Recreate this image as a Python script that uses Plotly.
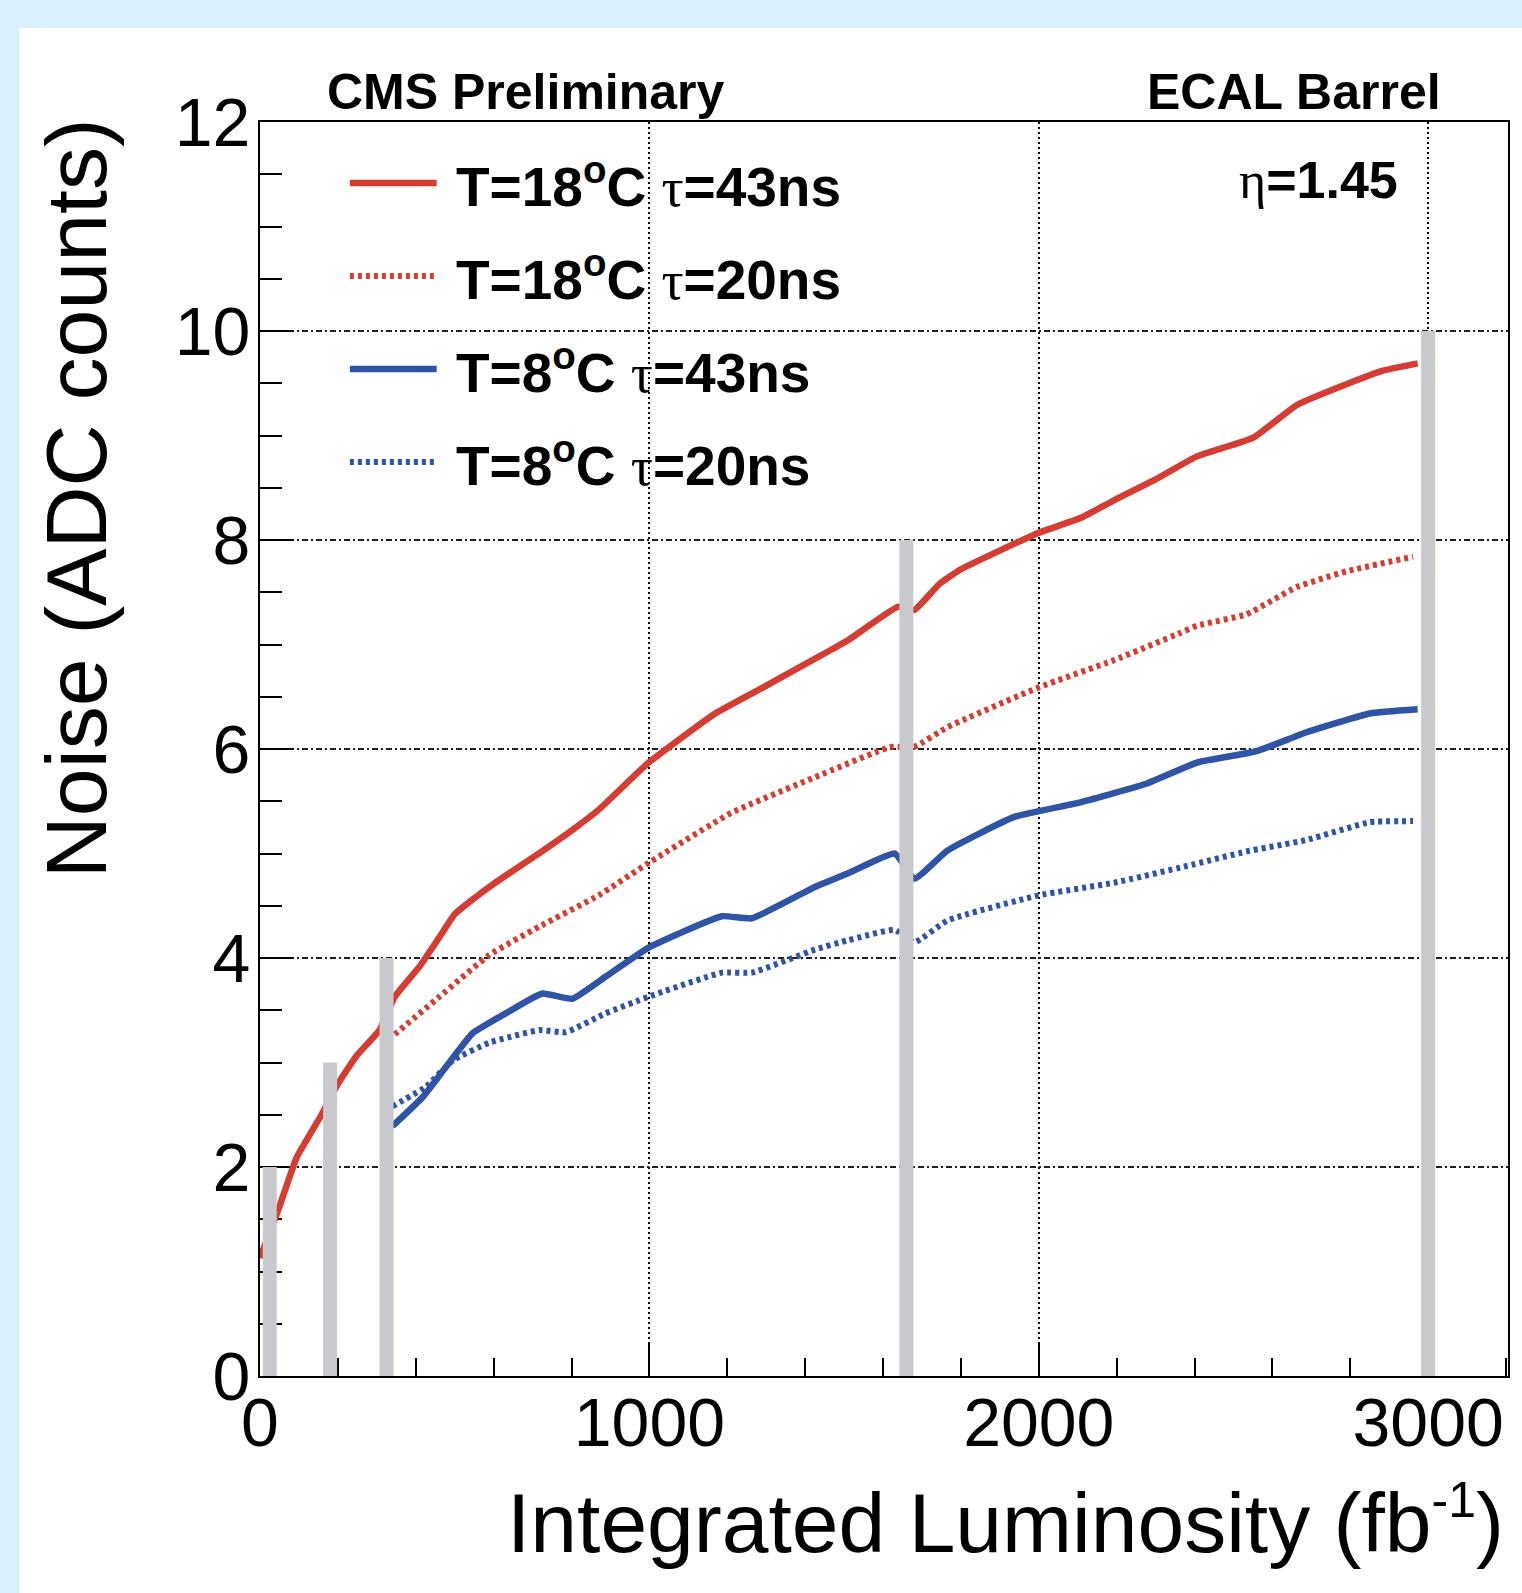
import plotly.graph_objects as go

# ---------------- data ----------------
red43_x = [0, 47, 94, 158, 196, 247, 307, 346, 410, 461, 500, 546, 600, 700, 800, 870, 998,
           1169, 1297, 1467, 1510, 1638, 1680, 1745, 1800, 2000, 2107, 2193, 2300, 2406,
           2551, 2662, 2790, 2884, 2973]
red43_y = [1.13, 1.59, 2.09, 2.50, 2.77, 3.06, 3.31, 3.63, 3.92, 4.20, 4.42, 4.56, 4.71,
           4.96, 5.22, 5.42, 5.87, 6.34, 6.60, 6.95, 7.04, 7.36, 7.33, 7.58, 7.72, 8.07,
           8.21, 8.38, 8.58, 8.80, 8.98, 9.29, 9.49, 9.62, 9.69]

red20_x = [330, 461, 589, 717, 870, 998, 1211, 1425, 1620, 1680, 1766, 2000, 2193, 2363,
           2406, 2534, 2662, 2790, 2961]
red20_y = [3.22, 3.63, 4.03, 4.30, 4.60, 4.91, 5.39, 5.73, 6.02, 6.02, 6.21, 6.59, 6.85,
           7.11, 7.18, 7.29, 7.55, 7.70, 7.84]

blue43_x = [340, 418, 478, 546, 631, 725, 802, 887, 998, 1186, 1263, 1425, 1510, 1630,
            1681, 1766, 1937, 2107, 2278, 2406, 2560, 2688, 2850, 2973]
blue43_y = [2.39, 2.67, 2.96, 3.28, 3.47, 3.66, 3.61, 3.82, 4.10, 4.40, 4.38, 4.68, 4.81,
            5.00, 4.76, 5.03, 5.35, 5.49, 5.67, 5.87, 5.98, 6.16, 6.34, 6.38]

blue20_x = [340, 427, 495, 589, 717, 785, 887, 998, 1186, 1263, 1425, 1510, 1630, 1681,
            1766, 2000, 2193, 2380, 2534, 2688, 2850, 2961]
blue20_y = [2.58, 2.77, 3.02, 3.19, 3.31, 3.29, 3.47, 3.63, 3.86, 3.86, 4.08, 4.17, 4.27,
            4.15, 4.36, 4.60, 4.72, 4.88, 5.02, 5.13, 5.30, 5.31]

bar_x = [25, 180, 325, 1660, 3000]
bar_h = [2, 3, 4, 8, 10]

series_names = ["T=18<sup>o</sup>C τ=43ns", "T=18<sup>o</sup>C τ=20ns",
                "T=8<sup>o</sup>C τ=43ns", "T=8<sup>o</sup>C τ=20ns"]

x_title = "Integrated Luminosity (fb<sup><span style='font-size:50px'>-1</span></sup>)"
y_title = "Noise (ADC counts)"

# ---------------- styles ----------------
RED = "rgb(213,60,50)"
BLUE = "rgb(47,83,165)"
GRAY = "rgb(200,201,205)"
BG = "rgb(219,240,253)"
FONT = "Liberation Sans, Arial, Helvetica, sans-serif"
DOTS = "4px,4px"
LW = 6.5
DW = 6.0

W, H = 1522, 1593
L, R, T, B = 260, 1510, 122, 1376


def px(xp):
    return (xp - L) / (R - L)


def py(yp):
    return (B - yp) / (B - T)


fig = go.Figure()
styles = [(RED, "solid", LW), (RED, DOTS, DW), (BLUE, "solid", LW), (BLUE, DOTS, DW)]
datas = [(red43_x, red43_y), (red20_x, red20_y), (blue43_x, blue43_y), (blue20_x, blue20_y)]
for (xs, ys), (col, dash, lw), name in zip(datas, styles, series_names):
    fig.add_trace(go.Scatter(x=xs, y=ys, mode="lines", name=name, showlegend=False,
                             line=dict(color=col, width=lw, dash=dash, shape="spline", smoothing=0.4)))

# grey vertical bars (drawn on top of the curves)
bxs, bys = [], []
for bx, bh in zip(bar_x, bar_h):
    bxs += [bx, bx, None]
    bys += [0, bh, None]
fig.add_trace(go.Scatter(x=bxs, y=bys, mode="lines", showlegend=False,
                         line=dict(color=GRAY, width=14)))

shapes = [
    dict(type="rect", xref="paper", yref="paper", x0=px(19), x1=px(1540), y0=py(1620), y1=py(28),
         fillcolor="white", line=dict(width=0), layer="below"),
]
annotations = []

# legend (manual)
leg_y = [183, 276, 369, 462]
for (col, dash, lw), name, yy in zip(styles, series_names, leg_y):
    shapes.append(dict(type="line", xref="paper", yref="paper", x0=px(350), x1=px(437),
                       y0=py(yy), y1=py(yy), line=dict(color=col, width=lw, dash=dash)))
    txt = name.replace("τ", "<span style='font-family:Liberation Serif;font-weight:normal'>τ</span>")
    annotations.append(dict(text="<b>" + txt + "</b>", xref="paper", yref="paper",
                            x=px(454), y=py(yy), xanchor="left", yanchor="middle",
                            showarrow=False, font=dict(family=FONT, size=55, color="black")))

annotations += [
    dict(text="<b>CMS Preliminary</b>", xref="paper", yref="paper", x=px(325), y=py(92),
         xanchor="left", yanchor="middle", showarrow=False,
         font=dict(family=FONT, size=50, color="black")),
    dict(text="<b>ECAL Barrel</b>", xref="paper", yref="paper", x=px(1445), y=py(92),
         xanchor="right", yanchor="middle", showarrow=False,
         font=dict(family=FONT, size=50, color="black")),
    dict(text="<span style='font-family:Liberation Serif;font-weight:normal'>η</span><b>=1.45</b>",
         xref="paper", yref="paper", x=px(1402), y=py(180),
         xanchor="right", yanchor="middle", showarrow=False,
         font=dict(family=FONT, size=52, color="black")),
    dict(text=y_title, xref="paper", yref="paper", x=px(76), y=py(498), textangle=-90,
         xanchor="center", yanchor="middle", showarrow=False,
         font=dict(family=FONT, size=86, color="black")),
    dict(text=x_title, xref="paper", yref="paper", x=px(1508), y=py(1521),
         xanchor="right", yanchor="middle", showarrow=False,
         font=dict(family=FONT, size=84, color="black")),
]

fig.update_layout(
    width=W, height=H, autosize=False,
    margin=dict(l=L, r=W - R, t=T, b=H - B, pad=0),
    paper_bgcolor=BG, plot_bgcolor="white",
    shapes=shapes, annotations=annotations, showlegend=False,
    font=dict(family=FONT, color="black"),
)
fig.update_xaxes(
    range=[0, 3205], dtick=1000, tick0=0, showline=True, linecolor="black", linewidth=2,
    mirror=True, ticks="inside", ticklen=33, tickwidth=1.5, tickcolor="black",
    showgrid=True, gridcolor="black", gridwidth=2, griddash="2px,3px", zeroline=False,
    tickfont=dict(family=FONT, size=68, color="black"), ticklabelstandoff=-14,
    minor=dict(dtick=200, ticks="inside", ticklen=18, tickwidth=1.5, tickcolor="black", showgrid=False),
    layer="below traces",
)
fig.update_yaxes(
    range=[0, 12], dtick=2, tick0=0, showline=True, linecolor="black", linewidth=2,
    mirror=True, ticks="inside", ticklen=33, tickwidth=1.5, tickcolor="black",
    showgrid=True, gridcolor="rgb(30,30,30)", gridwidth=1.6, griddash="6px,3px,2px,3px", zeroline=False,
    tickfont=dict(family=FONT, size=68, color="black"), ticklabelstandoff=-6,
    minor=dict(dtick=0.5, ticks="inside", ticklen=22, tickwidth=1.5, tickcolor="black", showgrid=False),
    layer="below traces",
)

fig.write_html(
    "out.html",
    config={"displayModeBar": False},
    post_script=("document.body.style.margin='0';document.body.style.padding='0';"
                 "document.documentElement.style.background='" + BG + "';"
                 "document.body.style.overflow='hidden';"),
)
